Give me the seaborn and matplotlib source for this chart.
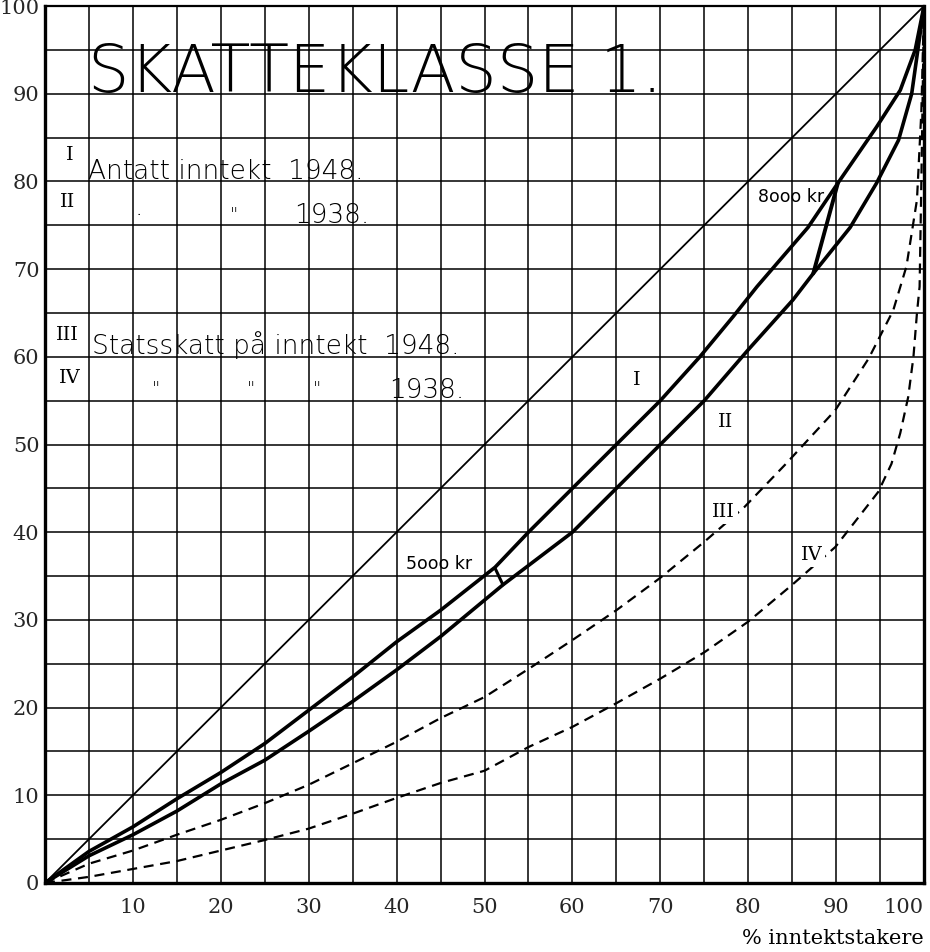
import numpy as np
import pandas as pd
import matplotlib
matplotlib.use("Agg")
import matplotlib.pyplot as plt
import seaborn as sns

# Lorenz curves, skatteklasse 1
# I  : antatt inntekt 1948
inc48_x = [0, 5, 10, 15, 20, 25, 30, 35, 40, 45, 51.2, 55, 60, 65, 70, 74.5, 78.3, 81, 86.8, 90.2, 94.6, 97.3, 99, 100]
inc48_y = [0, 3.6, 6.4, 9.6, 12.6, 15.9, 19.7, 23.5, 27.5, 31.1, 36, 40, 45, 50, 55, 60, 64.6, 68, 74.75, 79.8, 86.2, 90.4, 95, 100]
# II : antatt inntekt 1938
inc38_x = [0, 5, 10, 15, 20, 25, 30, 35, 40, 45, 52.1, 55, 60, 65, 70, 75, 80, 85.1, 87.4, 91.6, 94.6, 97.1, 98.6, 99.3, 100]
inc38_y = [0, 3.1, 5.5, 8.2, 11.3, 14, 17.3, 20.7, 24.3, 28.1, 34, 36.2, 40, 45, 50, 55, 60.8, 66.5, 69.5, 74.75, 79.8, 84.7, 90, 95, 100]
# III: statsskatt paa inntekt 1948
tax48_x = [0, 5, 10, 15, 20, 25, 30, 40, 45, 50, 55, 60, 65, 70, 75, 79.6, 84.2, 89.9, 93.7, 96.5, 98, 99.2, 99.7, 100]
tax48_y = [0, 2.2, 3.7, 5.5, 7.2, 9.1, 11.2, 16.1, 18.8, 21.2, 24.4, 27.7, 31.1, 34.8, 38.9, 42.9, 47.7, 53.9, 59.8, 65.3, 70.3, 77.9, 88, 100]
# IV : statsskatt paa inntekt 1938
tax38_x = [0, 5, 10, 15, 20, 25, 30, 35, 40, 45, 50, 55, 60, 65, 70, 75, 80, 85, 89.9, 94.8, 96.3, 97.3, 98.2, 98.8, 99.2, 99.5, 99.7, 99.85, 100]
tax38_y = [0, 0.7, 1.6, 2.5, 3.7, 4.9, 6.2, 7.9, 9.7, 11.4, 12.8, 15.5, 17.8, 20.5, 23.3, 26.3, 29.8, 34, 38.3, 44.6, 47.8, 51.3, 55.4, 60, 65, 68, 80, 90, 100]

# income thresholds linking curve I and II
mark5000_x = [51.2, 52.1]
mark5000_y = [35.9, 34.0]
mark8000_x = [90.2, 87.4]
mark8000_y = [79.8, 69.5]

equal_line = [0, 100]
tick_vals = list(range(0, 101, 5))

sns.set_style("white")
plt.rcParams['font.family'] = ['DejaVu Sans']

fig = plt.figure(figsize=(9.3, 9.52), dpi=100)
ax = fig.add_axes([45 / 930, 1 - 883 / 952, 879 / 930, 877 / 952])

ink = 'black'
dash = (0, (4.5, 3))
sns.lineplot(x=equal_line, y=equal_line, ax=ax, color=ink, linewidth=1.3)
sns.lineplot(x=inc48_x, y=inc48_y, ax=ax, color=ink, linewidth=2.6, estimator=None, sort=False)
sns.lineplot(x=inc38_x, y=inc38_y, ax=ax, color=ink, linewidth=2.6, estimator=None, sort=False)
sns.lineplot(x=tax48_x, y=tax48_y, ax=ax, color=ink, linewidth=1.6, linestyle=dash, estimator=None, sort=False)
sns.lineplot(x=tax38_x, y=tax38_y, ax=ax, color=ink, linewidth=1.6, linestyle=dash, estimator=None, sort=False)
sns.lineplot(x=mark5000_x, y=mark5000_y, ax=ax, color=ink, linewidth=2.2, estimator=None, sort=False)
sns.lineplot(x=mark8000_x, y=mark8000_y, ax=ax, color=ink, linewidth=2.8, estimator=None, sort=False)

ax.set_xlim(0, 100)
ax.set_ylim(0, 100)
ax.set_xticks(tick_vals)
ax.set_yticks(tick_vals)
ax.set_xticklabels(['' if (v % 10 or v == 0) else str(v) for v in tick_vals])
ax.set_yticklabels(['' if v % 10 else str(v) for v in tick_vals])
ax.tick_params(axis='both', length=0, labelsize=15)
ax.tick_params(axis='x', pad=11)
ax.tick_params(axis='y', pad=4)
for lab in ax.get_xticklabels() + ax.get_yticklabels():
    lab.set_family('DejaVu Serif')
ax.get_xticklabels()[-1].set_horizontalalignment('right')
ax.grid(True, color=ink, linewidth=1.1)
ax.set_axisbelow(True)
for side in ['left', 'bottom', 'right']:
    ax.spines[side].set_linewidth(2.4)
    ax.spines[side].set_color(ink)
ax.spines['top'].set_linewidth(1.6)
ax.spines['top'].set_color(ink)

# hand lettered title and legend
hand = dict(color=ink, fontweight='light', family='DejaVu Sans')
ax.text(4.9, 90.2, 'SKATTEKLASSE 1.', fontsize=47, **hand)
ax.text(4.9, 80.3, 'Antatt inntekt  1948.', fontsize=19, **hand)
ax.text(10.2, 76.2, '.', fontsize=19, **hand)
ax.text(21, 75.6, '"', fontsize=13, **hand)
ax.text(28.3, 75.3, '1938.', fontsize=19, **hand)
ax.text(5.4, 60.3, 'Statsskatt på inntekt  1948.', fontsize=19, **hand)
for xq in [12.2, 23, 30.5]:
    ax.text(xq, 55.8, '"', fontsize=13, **hand)
ax.text(39.2, 55.3, '1938.', fontsize=19, **hand)

roman = dict(color=ink, family='DejaVu Serif', fontsize=14, ha='center', va='center')
ax.text(2.8, 83.0, 'I', **roman)
ax.text(2.6, 77.7, 'II', **roman)
ax.text(2.6, 62.5, 'III', **roman)
ax.text(2.8, 57.6, 'IV', **roman)
ax.text(67.3, 57.4, 'I', **roman)
ax.text(77.4, 52.6, 'II', **roman)
ax.text(77.2, 42.3, 'III', bbox=dict(facecolor='white', edgecolor='none', pad=2), **roman)
ax.text(87.2, 37.4, 'IV', bbox=dict(facecolor='white', edgecolor='none', pad=2), **roman)

small = dict(color=ink, family='DejaVu Sans', fontsize=12.5, va='center')
ax.text(41.1, 36.4, '5ooo kr', **small)
ax.text(81.1, 78.2, '8ooo kr', **small)

ax.text(100, -6.3, '% inntektstakere', ha='right', va='center', fontsize=15,
        family='DejaVu Serif', color=ink, clip_on=False)

fig.savefig('out.png', dpi=100)
plt.close(fig)
